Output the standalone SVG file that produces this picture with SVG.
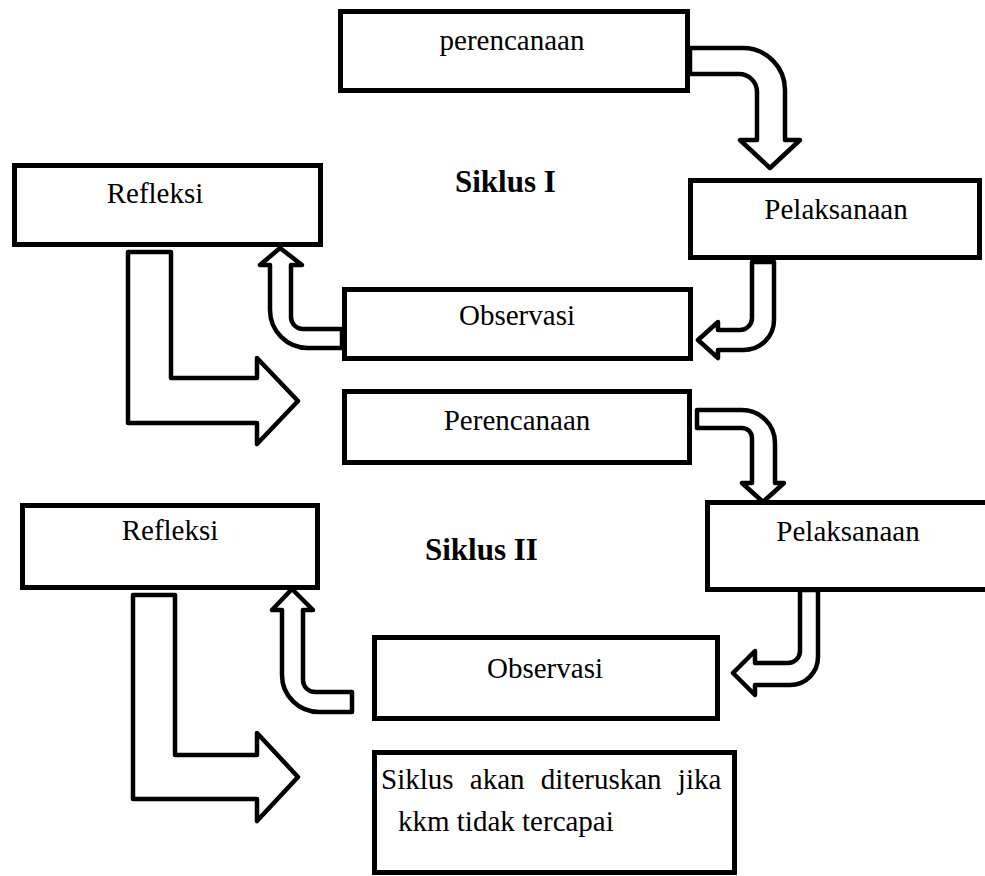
<svg xmlns="http://www.w3.org/2000/svg" width="985" height="876" viewBox="0 0 985 876">
<style>
.box{fill:#fff;stroke:#000;stroke-width:5}
.arr{fill:#fff;stroke:#000;stroke-width:4.5;stroke-linejoin:round}
.t{font-family:"Liberation Serif","Times New Roman",serif;font-size:29px;fill:#000}
.c{text-anchor:middle}
.b{font-family:"Liberation Serif","Times New Roman",serif;font-size:31px;font-weight:bold;fill:#000}
</style>
<rect width="985" height="876" fill="#fff"/>
<g id="connectors">
<path class="arr" d="M690,48 L743,48 A42,42 0 0 1 785,90 L785,140 L800,140 L770,168 L740,140 L757,140 L757,92 A18,18 0 0 0 739,74 L690,74 Z"/>
<path class="arr" d="M752,262 L752,318 A12,12 0 0 1 740,330 L718,330 L718,322 L698,340 L718,358 L718,350 L744,350 A30,30 0 0 0 774,320 L774,262 Z"/>
<path class="arr" d="M342,329 L303,329 A12,12 0 0 1 291,317 L291,265 L302,265 L280,248 L260,265 L270,265 L270,310 A38,38 0 0 0 308,348 L342,348 Z"/>
<path class="arr" d="M128,252 L171,252 L171,378 L257,378 L257,358 L298,401 L257,444 L257,423 L128,423 Z"/>
<path class="arr" d="M697,410 L742,410 A33,33 0 0 1 775,443 L775,483 L784,483 L763,502 L742,483 L752,483 L752,438 A10,10 0 0 0 742,428 L697,428 Z"/>
<path class="arr" d="M800,590 L800,651 A12,12 0 0 1 788,663 L755,663 L755,651 L733,673 L755,695 L755,685 L790,685 A28,28 0 0 0 818,657 L818,590 Z"/>
<path class="arr" d="M352,692 L315,692 A12,12 0 0 1 303,680 L303,610 L313,610 L292,589 L272,610 L282,610 L282,675 A37,37 0 0 0 319,712 L352,712 Z"/>
<path class="arr" d="M133,595 L175,595 L175,755 L257,755 L257,733 L298,777 L257,821 L257,799 L133,799 Z"/>
</g>
<g id="perencanaan1">
<rect class="box" x="340.5" y="11.5" width="347" height="79"/>
<text class="t c" x="512" y="50">perencanaan</text>
</g>
<g id="refleksi1">
<rect class="box" x="14.5" y="165.5" width="306" height="79"/>
<text class="t c" x="155" y="203">Refleksi</text>
</g>
<g id="siklus1">
<text class="b" x="455" y="192">Siklus I</text>
</g>
<g id="pelaksanaan1">
<rect class="box" x="690.5" y="180.5" width="289" height="77"/>
<text class="t c" x="836" y="219">Pelaksanaan</text>
</g>
<g id="observasi1">
<rect class="box" x="344.5" y="289.5" width="346" height="69"/>
<text class="t c" x="517" y="325">Observasi</text>
</g>
<g id="perencanaan2">
<rect class="box" x="344.5" y="391.5" width="345" height="71"/>
<text class="t c" x="517" y="430">Perencanaan</text>
</g>
<g id="refleksi2">
<rect class="box" x="22.5" y="505.5" width="295" height="82"/>
<text class="t c" x="170" y="540">Refleksi</text>
</g>
<g id="siklus2">
<text class="b" x="425" y="560">Siklus II</text>
</g>
<g id="pelaksanaan2">
<rect class="box" x="707.5" y="502.5" width="290" height="87"/>
<text class="t c" x="848" y="541">Pelaksanaan</text>
</g>
<g id="observasi2">
<rect class="box" x="374.5" y="637.5" width="343" height="81"/>
<text class="t c" x="545" y="678">Observasi</text>
</g>
<g id="final">
<rect class="box" x="374.5" y="752.5" width="360" height="120"/>
<text class="t" x="381" y="789" word-spacing="9">Siklus akan diteruskan jika</text>
<text class="t" x="398" y="831">kkm tidak tercapai</text>
</g>
</svg>
